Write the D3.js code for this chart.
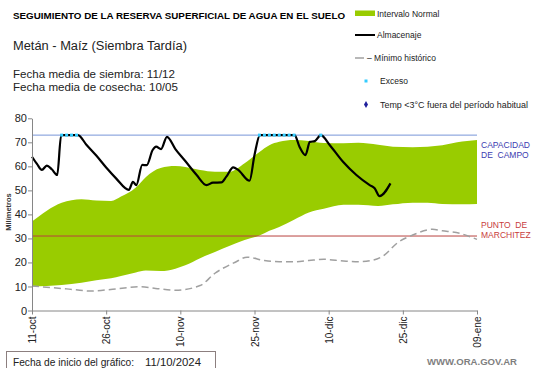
<!DOCTYPE html>
<html>
<head>
<meta charset="utf-8">
<script src="https://cdn.jsdelivr.net/npm/d3@7"></script>
<style>
  body { margin: 0; background: #fff; }
  svg { display: block; font-family: "Liberation Sans", Arial, sans-serif; }
</style>
</head>
<body>
<svg id="chart" width="541" height="368"></svg>
<script>
// Data (day offset from 11/10/2024)
const tickDays = [0, 15, 30, 45, 60, 75, 90];
const tickLabels = ['11-oct', '26-oct', '10-nov', '25-nov', '10-dic', '25-dic', '09-ene'];
const yTicks = [0, 10, 20, 30, 40, 50, 60, 70, 80];

const bandDays  = [0, 3, 6, 10, 13, 16, 18, 21, 23, 26, 29, 31, 34, 37, 40, 43, 46, 48, 50, 53, 56, 59, 63, 66, 70, 73, 77, 80, 83, 87, 90];
const bandUpper = [37, 41.5, 44.8, 46.3, 45.8, 45.6, 47.4, 51.2, 55.5, 59.3, 60.1, 59.7, 58.5, 57.8, 57.8, 61.3, 66, 68.8, 70.2, 71, 70.6, 69.7, 69.6, 69.8, 69, 68.2, 68, 68.2, 68.8, 70.3, 71];
const bandLower = [10, 10.2, 10.6, 11.6, 12.6, 13.4, 14.4, 15.8, 16.6, 16.4, 17.4, 18.8, 21.8, 24.4, 26.9, 29.3, 31.2, 33.2, 34.8, 37.8, 40.8, 42.3, 44, 44, 43.5, 44.2, 44.9, 44.8, 44.3, 44.2, 44.3];

const minDays   = [0, 4, 7, 12, 17, 22, 25, 29, 34, 37, 41, 43.5, 47, 50, 53, 56, 59, 63, 66, 69, 71, 74, 77, 81, 83, 86.5, 90];
const minValues = [10.2, 9.5, 9, 8.1, 9, 9.9, 9.2, 8.4, 10.4, 15.5, 20, 22.2, 20.8, 20.3, 20.3, 20.8, 21.3, 20.6, 20.3, 21, 22.7, 28.3, 31.4, 33.8, 33.2, 32.1, 29.6];

const almDays   = [0, 1, 2, 3, 4, 5.1, 5.9, 7, 8, 9.3, 11, 13, 15, 17, 19.6, 20.4, 21.1, 22.3, 23.2, 24.4, 25.1, 26.1, 27.3, 29, 31, 33.3, 35.3, 36.6, 38.3, 39.3, 40.7, 41.7, 44, 45, 46.1, 47, 48, 49, 50, 51, 52, 53.1, 54.1, 55.3, 56.2, 57.2, 58.4, 60.2, 62.9, 65.6, 68.3, 69.3, 70.3, 72.5];
const almValues = [64, 61, 58.5, 60.3, 58.8, 56.4, 73, 73, 73, 73, 69, 64.5, 59.5, 55, 50.2, 53.5, 52.2, 60.6, 60.5, 66.8, 68.2, 67.2, 72.3, 67.2, 62.2, 56.4, 52.2, 53.2, 53.3, 55.7, 59.6, 58.5, 54, 64.7, 73, 73, 73, 73, 73, 73, 73, 73, 68.2, 64.7, 70.2, 70.5, 73, 68.9, 61.9, 56.4, 52.2, 50.9, 47.6, 52.9];

const excesoDays = [6, 7, 8, 9, 46, 47, 48, 49, 50, 51, 52, 53, 58.4];
const excesoValue = 73;

const capacidadCampo = 73;
const puntoMarchitez = 31;

const svg = d3.select('#chart');

const x = d3.scaleLinear().domain([0, 90]).range([32, 477]);
const y = d3.scaleLinear().domain([0, 80]).range([310.5, 118.3]);

// Band
const band = bandDays.map((d, i) => ({ d: d, lo: bandLower[i], hi: bandUpper[i] }));
svg.append('path')
    .datum(band)
    .attr('fill', '#99cc00')
    .attr('d', d3.area()
        .x(d => x(d.d))
        .y0(d => y(d.lo))
        .y1(d => y(d.hi))
        .curve(d3.curveMonotoneX));

// Reference lines
svg.append('line')
    .attr('x1', x(0)).attr('x2', x(90))
    .attr('y1', y(capacidadCampo)).attr('y2', y(capacidadCampo))
    .attr('stroke', '#7895d8').attr('stroke-width', 1);

svg.append('line')
    .attr('x1', x(0)).attr('x2', x(90))
    .attr('y1', y(puntoMarchitez)).attr('y2', y(puntoMarchitez))
    .attr('stroke', '#b8423e').attr('stroke-width', 1);

// Minimo historico
svg.append('path')
    .datum(minDays.map((d, i) => [d, minValues[i]]))
    .attr('fill', 'none')
    .attr('stroke', '#a0a0a0')
    .attr('stroke-width', 1.5)
    .attr('stroke-dasharray', '7,4')
    .attr('d', d3.line().x(d => x(d[0])).y(d => y(d[1])).curve(d3.curveMonotoneX));

// Almacenaje
svg.append('path')
    .datum(almDays.map((d, i) => [d, almValues[i]]))
    .attr('fill', 'none')
    .attr('stroke', '#000')
    .attr('stroke-width', 2.2)
    .attr('stroke-linejoin', 'round')
    .attr('d', d3.line().x(d => x(d[0])).y(d => y(d[1])).curve(d3.curveMonotoneX));

// Exceso
svg.selectAll('.exceso')
    .data(excesoDays)
    .enter()
    .append('rect')
    .attr('class', 'exceso')
    .attr('x', d => x(d) - 1.5)
    .attr('y', y(excesoValue) - 1.5)
    .attr('width', 3)
    .attr('height', 3)
    .attr('fill', '#33ccff');

// Axes
const xAxis = svg.append('g')
    .attr('transform', `translate(0,${y(0)})`)
    .call(d3.axisBottom(x).tickValues(tickDays).tickFormat((d, i) => tickLabels[i]).tickSize(4).tickSizeOuter(0));
xAxis.select('.domain').attr('stroke', '#868686');
xAxis.selectAll('line').attr('stroke', '#868686');
xAxis.selectAll('text')
    .attr('font-size', 10)
    .attr('fill', '#222')
    .attr('text-anchor', 'end')
    .attr('transform', 'rotate(-90)')
    .attr('x', -6)
    .attr('y', 0)
    .attr('dy', '0.35em');

const yAxis = svg.append('g')
    .attr('transform', `translate(${x(0)},0)`)
    .call(d3.axisLeft(y).tickValues(yTicks).tickSize(4).tickSizeOuter(0));
yAxis.select('.domain').attr('stroke', '#868686');
yAxis.selectAll('line').attr('stroke', '#868686');
yAxis.selectAll('text').attr('font-size', 11).attr('fill', '#222').attr('x', -5);

svg.append('text')
    .attr('transform', 'rotate(-90)')
    .attr('x', -212)
    .attr('y', 11)
    .attr('text-anchor', 'middle')
    .attr('font-size', 7.5)
    .attr('font-weight', 'bold')
    .attr('fill', '#333')
    .text('Milímetros');

// Right labels
svg.append('text').attr('x', 481).attr('y', 148).attr('font-size', 8.5).attr('fill', '#3b3bb0').text('CAPACIDAD');
svg.append('text').attr('x', 481).attr('y', 158).attr('font-size', 8.5).attr('fill', '#3b3bb0').attr('xml:space', 'preserve').text('DE  CAMPO');
svg.append('text').attr('x', 481).attr('y', 228).attr('font-size', 8.5).attr('fill', '#c83c3c').attr('xml:space', 'preserve').text('PUNTO  DE');
svg.append('text').attr('x', 481).attr('y', 238).attr('font-size', 8.5).attr('fill', '#c83c3c').text('MARCHITEZ');

// Titles
svg.append('text')
    .attr('x', 13).attr('y', 19)
    .attr('font-size', 9.5).attr('font-weight', 'bold')
    .attr('textLength', 332).attr('lengthAdjust', 'spacingAndGlyphs')
    .text('SEGUIMIENTO DE LA RESERVA SUPERFICIAL DE AGUA EN EL SUELO');

svg.append('text').attr('x', 13).attr('y', 50).attr('font-size', 12.5).attr('fill', '#222')
    .attr('textLength', 174).attr('lengthAdjust', 'spacingAndGlyphs')
    .text('Metán - Maíz (Siembra Tardía)');
svg.append('text').attr('x', 13).attr('y', 78).attr('font-size', 11.5).attr('fill', '#222')
    .attr('textLength', 162).attr('lengthAdjust', 'spacingAndGlyphs')
    .text('Fecha media de siembra: 11/12');
svg.append('text').attr('x', 13).attr('y', 91).attr('font-size', 11.5).attr('fill', '#222')
    .attr('textLength', 165).attr('lengthAdjust', 'spacingAndGlyphs')
    .text('Fecha media de cosecha: 10/05');

// Legend
const lg = svg.append('g').attr('font-size', 8.5).attr('fill', '#222');
lg.append('rect').attr('x', 355).attr('y', 10.5).attr('width', 20).attr('height', 5.5).attr('fill', '#99cc00');
lg.append('text').attr('x', 377).attr('y', 16.5).text('Intervalo Normal');
lg.append('line').attr('x1', 355).attr('x2', 375).attr('y1', 35).attr('y2', 35).attr('stroke', '#000').attr('stroke-width', 2);
lg.append('text').attr('x', 377).attr('y', 38).text('Almacenaje');
lg.append('line').attr('x1', 355).attr('x2', 364).attr('y1', 58).attr('y2', 58).attr('stroke', '#a0a0a0').attr('stroke-width', 1.5);
lg.append('text').attr('x', 367).attr('y', 61).text('– Mínimo histórico');
lg.append('rect').attr('x', 364.5).attr('y', 79.5).attr('width', 3).attr('height', 3).attr('fill', '#33ccff');
lg.append('text').attr('x', 380).attr('y', 84).text('Exceso');
lg.append('path').attr('d', d3.symbol(d3.symbolDiamond, 14)()).attr('transform', 'translate(366,104.5)').attr('fill', '#1f1f9c');
lg.append('text').attr('x', 380).attr('y', 107.5).attr('textLength', 148).attr('lengthAdjust', 'spacingAndGlyphs')
    .text('Temp <3°C fuera del período habitual');

// Footer
svg.append('rect').attr('x', 6.5).attr('y', 351.5).attr('width', 209).attr('height', 20)
    .attr('fill', 'none').attr('stroke', '#8c7f7f').attr('stroke-width', 1);
svg.append('text').attr('x', 13).attr('y', 366).attr('font-size', 11.5).attr('fill', '#222')
    .attr('textLength', 121).attr('lengthAdjust', 'spacingAndGlyphs')
    .text('Fecha de inicio del gráfico:');
svg.append('text').attr('x', 145).attr('y', 366).attr('font-size', 11.5).attr('fill', '#222')
    .attr('textLength', 56).attr('lengthAdjust', 'spacingAndGlyphs')
    .text('11/10/2024');
svg.append('text').attr('x', 427).attr('y', 365).attr('font-size', 9.5).attr('font-weight', 'bold').attr('fill', '#7f7f7f')
    .attr('textLength', 90).attr('lengthAdjust', 'spacingAndGlyphs')
    .text('WWW.ORA.GOV.AR');
</script>
</body>
</html>
